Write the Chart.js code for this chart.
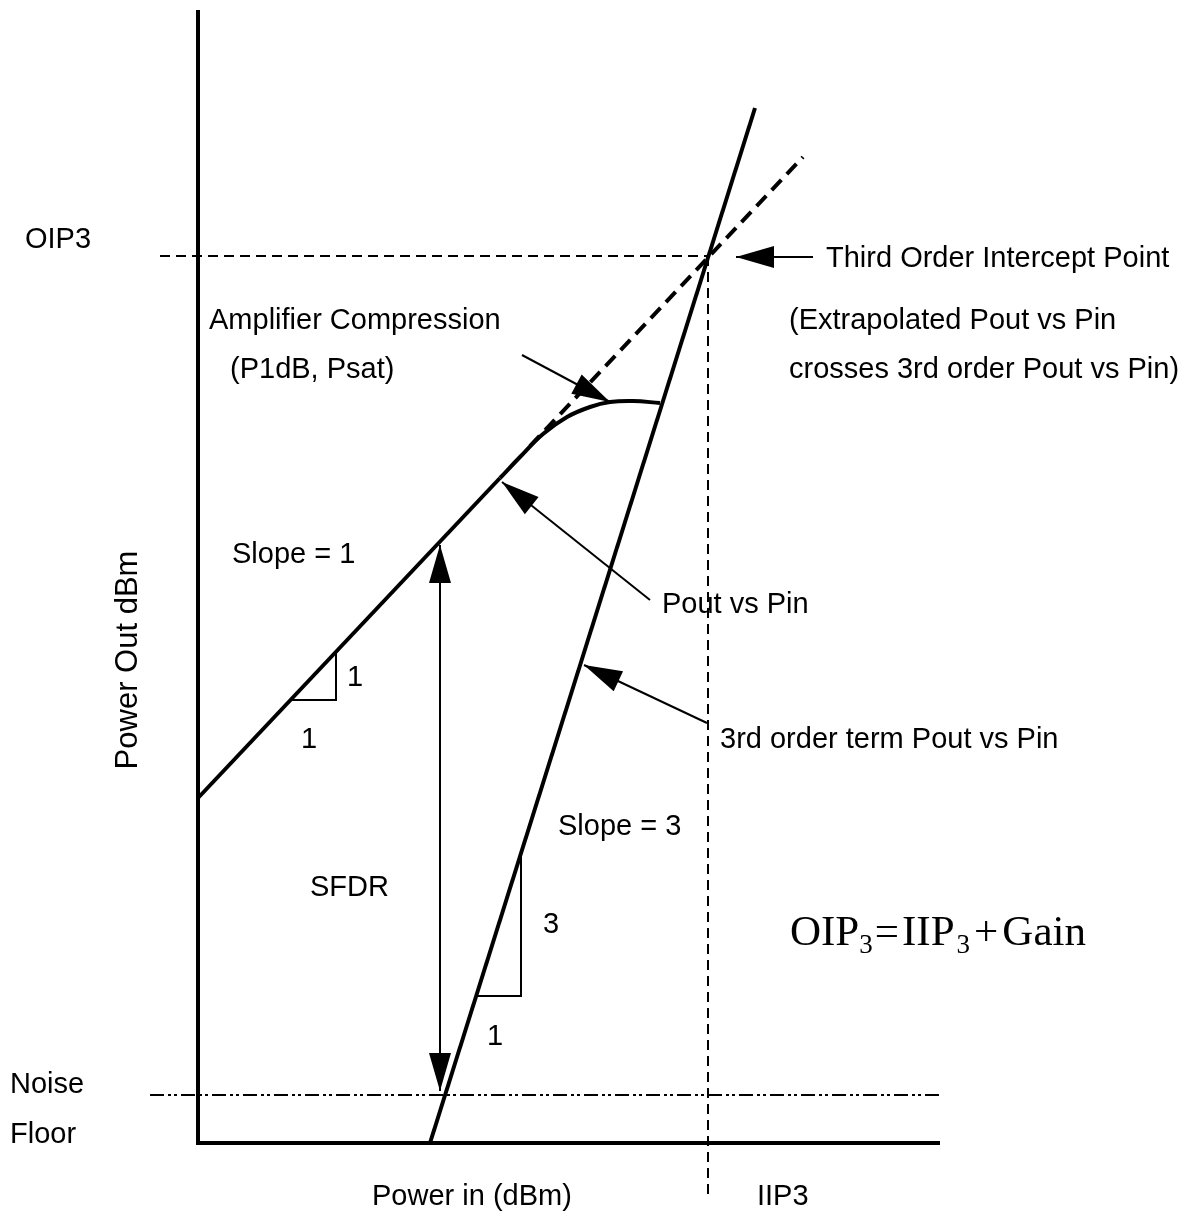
<!DOCTYPE html>
<html>
<head>
<meta charset="utf-8">
<title>Third Order Intercept</title>
<script src="https://cdn.jsdelivr.net/npm/chart.js@4.4.1/dist/chart.umd.min.js"></script>
<style>
    html, body { margin: 0; padding: 0; background: #fff; }
    #wrap { width: 1190px; height: 1213px; position: relative; }
</style>
</head>
<body>
<div id="wrap"><canvas id="ip3Chart"></canvas></div>
<script>
// Data units: x = power in, y = power out (origin at the axes corner)
const axisLine = [[0, 113.3], [0, 0], [74.2, 0]];
const linearPout = [[0, 34.5], [30.2, 66.5]];
const compressionPout = [[30.2, 66.5], [32.2, 68.6], [34.5, 70.9], [36.9, 72.6], [39.2, 73.6], [41.2, 74.1], [43.5, 74.2], [46.2, 74.0]];
const extrapolatedPout = [[33.2, 69.7], [60.5, 98.6]];
const thirdOrderPout = [[23.2, 0], [55.7, 103.5]];
const noiseFloor = [[-4.8, 4.8], [74.2, 4.8]];
const oip3Line = [[-3.8, 88.7], [51.0, 88.7]];
const iip3Line = [[51.0, 88.7], [51.0, -5.2]];
const slope1Triangle = [[9.2, 44.3], [13.8, 44.3], [13.8, 49.1]];
const slope3Triangle = [[28.0, 14.7], [32.3, 14.7], [32.3, 29.0]];

// arrows: [tail, tip, double headed]
const arrows = [
    [[32.4, 78.8], [41.2, 74.1], false],
    [[45.2, 54.3], [30.4, 66.1], false],
    [[50.9, 42.0], [38.6, 47.8], false],
    [[61.5, 88.6], [53.8, 88.6], false],
    [[24.2, 5.2], [24.2, 59.8], true]
];

// text labels: [text, x, y]
const labels = [
    ['OIP3', -17.3, 90.3],
    ['Third Order Intercept Point', 62.8, 88.4],
    ['Amplifier Compression', 1.1, 82.2],
    ['(P1dB, Psat)', 3.2, 77.3],
    ['(Extrapolated Pout vs Pin', 59.1, 82.2],
    ['crosses 3rd order Pout vs Pin)', 59.1, 77.3],
    ['Slope = 1', 3.4, 58.8],
    ['Pout vs Pin', 46.4, 53.8],
    ['1', 14.9, 46.5],
    ['1', 10.3, 40.3],
    ['3rd order term Pout vs Pin', 52.2, 40.3],
    ['Slope = 3', 36.0, 31.6],
    ['SFDR', 11.2, 25.5],
    ['3', 34.5, 21.8],
    ['1', 28.9, 10.6],
    ['Noise', -18.8, 5.8],
    ['Floor', -18.8, 0.8],
    ['Power in (dBm)', 17.4, -5.4],
    ['IIP3', 55.9, -5.4]
];
const yAxisTitle = ['Power Out dBm', -7.0, 48.3];
const formulaPos = [59.2, 19.8];

function toPoints(arr) {
    return arr.map(p => ({ x: p[0], y: p[1] }));
}

function lineSet(arr, width, dash, tension) {
    return {
        data: toPoints(arr),
        showLine: true,
        borderColor: '#000',
        borderWidth: width,
        borderDash: dash || [],
        pointRadius: 0,
        tension: tension || 0,
        fill: false
    };
}

function drawHead(ctx, fx, fy, tx, ty) {
    const ang = Math.atan2(ty - fy, tx - fx);
    const len = 38, half = 11;
    const bx = tx - Math.cos(ang) * len;
    const by = ty - Math.sin(ang) * len;
    ctx.beginPath();
    ctx.moveTo(tx, ty);
    ctx.lineTo(bx + Math.sin(ang) * half, by - Math.cos(ang) * half);
    ctx.lineTo(bx - Math.sin(ang) * half, by + Math.cos(ang) * half);
    ctx.closePath();
    ctx.fill();
}

// arrows, labels and the formula
const annotations = {
    id: 'annotations',
    afterDatasetsDraw(chart) {
        const ctx = chart.ctx;
        const xs = chart.scales.x, ys = chart.scales.y;
        const px = v => xs.getPixelForValue(v);
        const py = v => ys.getPixelForValue(v);
        ctx.save();
        ctx.strokeStyle = '#000';
        ctx.fillStyle = '#000';
        ctx.lineWidth = 2;

        arrows.forEach(a => {
            const fx = px(a[0][0]), fy = py(a[0][1]);
            const tx = px(a[1][0]), ty = py(a[1][1]);
            ctx.beginPath();
            ctx.moveTo(fx, fy);
            ctx.lineTo(tx, ty);
            ctx.stroke();
            drawHead(ctx, fx, fy, tx, ty);
            if (a[2]) drawHead(ctx, tx, ty, fx, fy);
        });

        ctx.font = '29px "Liberation Sans", Arial, sans-serif';
        ctx.textBaseline = 'middle';
        ctx.textAlign = 'left';
        labels.forEach(l => ctx.fillText(l[0], px(l[1]), py(l[2])));

        // rotated y title
        ctx.save();
        ctx.font = '31px "Liberation Sans", Arial, sans-serif';
        ctx.translate(px(yAxisTitle[1]), py(yAxisTitle[2]));
        ctx.rotate(-Math.PI / 2);
        ctx.textAlign = 'center';
        ctx.fillText(yAxisTitle[0], 0, 0);
        ctx.restore();

        // OIP3 = IIP3 + Gain
        const big = '43px "Liberation Serif", "Times New Roman", serif';
        const small = '27px "Liberation Serif", "Times New Roman", serif';
        const parts = [['OIP', big, 0, 0], ['3', small, 8, 0], ['=', big, 0, 2], ['IIP', big, 0, 3], ['3', small, 8, 2], ['+', big, 0, 4], ['Gain', big, 0, 4]];
        let x = px(formulaPos[0]);
        const base = py(formulaPos[1]);
        ctx.textBaseline = 'alphabetic';
        parts.forEach(p => {
            ctx.font = p[1];
            x += p[3];
            ctx.fillText(p[0], x, base + p[2]);
            x += ctx.measureText(p[0]).width;
        });
        ctx.restore();
    }
};

new Chart(document.getElementById('ip3Chart'), {
    type: 'scatter',
    data: {
        datasets: [
            lineSet(axisLine, 4),
            lineSet(linearPout, 4),
            lineSet(compressionPout, 4, null, 0.4),
            lineSet(extrapolatedPout, 4, [14, 8]),
            lineSet(thirdOrderPout, 4),
            lineSet(noiseFloor, 2, [14, 4, 3, 3, 3, 4]),
            lineSet(oip3Line, 2, [10, 6]),
            lineSet(iip3Line, 2, [10, 6]),
            lineSet(slope1Triangle, 2),
            lineSet(slope3Triangle, 2)
        ]
    },
    options: {
        responsive: true,
        maintainAspectRatio: false,
        animation: false,
        layout: { padding: 0 },
        plugins: { legend: { display: false }, tooltip: { enabled: false } },
        scales: {
            x: { type: 'linear', min: -19.8, max: 99.2, display: false },
            y: { type: 'linear', min: -7.0, max: 114.3, display: false }
        }
    },
    plugins: [annotations]
});
</script>
</body>
</html>
